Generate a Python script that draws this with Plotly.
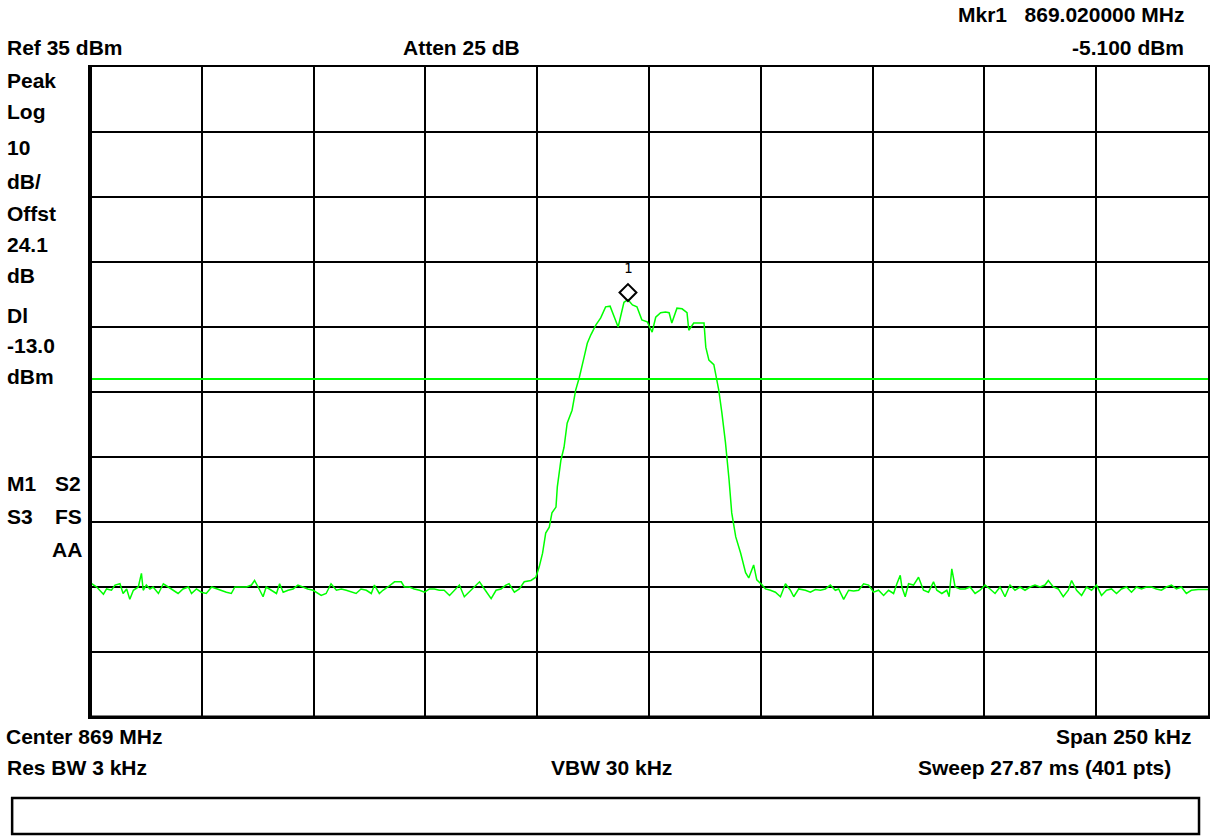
import plotly.graph_objects as go

# ---- data (frequency offset from centre in kHz, level in dBm) ----
center_mhz = 869.0
span_khz = 250.0
ref_level_dbm = 35.0
db_per_div = 10.0
display_line_dbm = -13.0

offset_khz = [
    -125.0, -124.6, -123.5, -122.8, -122.0, -121.3, -120.2, -119.4, -118.3, -117.6, -116.8,
    -116.1, -115.3, -114.2, -113.5, -113.1, -112.4, -111.6, -110.9, -109.7, -108.6, -107.5,
    -106.4, -105.3, -104.2, -103.0, -102.3, -101.2, -100.1, -99.0, -97.8, -96.7, -95.6,
    -94.5, -93.4, -92.6, -91.5, -90.0, -88.9, -88.2, -87.4, -86.3, -85.6, -84.4, -83.3,
    -82.6, -81.8, -80.7, -79.6, -78.5, -77.4, -76.3, -75.1, -74.4, -73.3, -72.2, -71.1,
    -69.9, -68.8, -67.7, -66.6, -65.5, -64.4, -63.2, -62.1, -61.4, -60.3, -59.5, -58.4,
    -56.9, -55.4, -54.7, -53.6, -52.5, -51.3, -50.2, -49.1, -48.0, -46.9, -45.8, -44.6,
    -43.5, -42.4, -41.3, -40.2, -39.1, -37.9, -36.8, -35.3, -34.2, -33.1, -32.0, -31.3,
    -30.1, -29.0, -27.9, -26.4, -25.3,
    # signal
    -24.55, -23.8, -23.1, -22.3, -21.7, -20.8, -20.5, -19.7, -19.0, -18.3, -17.2, -16.4,
    -15.6, -14.5, -13.8, -13.0, -11.9, -10.8, -9.7, -8.7, -7.8, -6.9, -5.6, -4.7, -3.7,
    -2.7, -1.6, -0.4, 0.7, 1.5, 2.6, 3.7, 4.5, 5.1, 6.25, 7.4, 8.5, 8.9, 10.0, 11.5, 12.3,
    12.7, 13.4, 14.5, 15.6, 16.3, 17.1, 17.9, 18.5, 19.4, 20.5, 21.6, 22.3, 23.4, 24.1, 25.3,
    # right noise
    26.04, 27.16, 28.27, 29.39, 30.51, 31.62, 32.37, 33.48, 34.97, 36.09, 37.20, 38.32,
    39.43, 40.55, 41.67, 42.41, 43.53, 44.64, 45.76, 46.88, 47.99, 49.11, 50.22, 51.34,
    52.46, 53.57, 54.69, 55.43, 56.18, 56.55, 57.29, 58.04, 59.15, 60.27, 61.38, 62.50,
    63.62, 64.36, 65.48, 66.59, 67.11, 67.71, 68.45, 69.57, 70.68, 71.80, 72.92, 74.03,
    75.15, 76.26, 77.38, 78.50, 79.61, 80.73, 81.85, 82.96, 84.08, 85.19, 86.31, 87.43,
    88.54, 89.29, 90.40, 91.52, 92.63, 93.75, 94.50, 95.61, 96.73, 97.84, 98.96, 100.07,
    101.19, 102.31, 103.42, 104.54, 105.65, 106.77, 107.89, 109.00, 110.12, 111.23, 112.35,
    113.47, 114.58, 115.70, 116.82, 117.93, 119.05, 120.16, 121.28, 122.77, 124.63, 125.0,
]

level_dbm = [
    -44.4, -44.5, -45.0, -45.5, -46.1, -45.3, -45.5, -44.7, -44.5, -46.0, -45.3,
    -46.9, -45.5, -45.0, -42.9, -45.5, -44.7, -45.3, -45.0, -46.0, -44.5, -45.0,
    -45.5, -46.0, -45.3, -45.0, -46.0, -45.3, -45.8, -46.0, -45.0, -45.3, -45.5,
    -45.8, -46.0, -45.0, -45.0, -45.0, -44.7, -44.0, -45.0, -46.5, -45.0, -45.5, -46.0,
    -44.5, -45.8, -45.5, -45.3, -44.7, -45.0, -45.3, -45.5, -45.8, -46.3, -46.0, -44.5,
    -45.5, -45.3, -45.5, -45.8, -46.0, -45.3, -45.5, -46.0, -44.7, -46.0, -45.5, -45.0,
    -44.2, -44.2, -45.0, -45.0, -45.3, -45.5, -45.8, -45.3, -45.3, -45.5, -45.5, -46.3,
    -45.5, -44.7, -46.5, -45.8, -45.0, -44.2, -45.3, -46.8, -45.5, -45.3, -44.7, -44.5,
    -45.8, -45.3, -44.2, -44.0, -43.5,
    # signal
    -41.9, -39.8, -36.7, -35.8, -33.6, -32.7, -29.6, -25.5, -23.5, -19.8, -17.8, -14.7,
    -12.8, -9.6, -7.5, -6.2, -4.7, -3.6, -1.9, -1.8, -3.5, -5.0, -1.2, -0.8, -1.6,
    -1.9, -3.9, -4.2, -5.8, -3.5, -2.8, -2.7, -2.8, -4.4, -2.1, -2.2, -2.8, -5.5, -4.4, -4.4, -4.4,
    -8.1, -10.1, -10.8, -14.7, -18.2, -22.8, -28.5, -33.6, -37.3, -39.8, -42.8, -43.6, -41.6, -43.9, -44.7,
    # right noise
    -45.3, -45.5, -45.8, -46.5, -44.5, -45.5, -46.5, -45.3, -45.5, -45.8, -45.4, -45.5,
    -45.3, -44.7, -45.5, -45.3, -46.9, -45.5, -45.6, -45.5, -44.5, -44.7, -45.8, -45.5,
    -46.3, -45.5, -46.0, -44.5, -43.2, -45.0, -46.5, -44.5, -44.7, -43.5, -45.5, -45.8,
    -44.2, -45.5, -46.0, -45.5, -46.5, -42.2, -45.0, -45.3, -45.3, -45.0, -46.0, -45.5,
    -44.7, -45.3, -46.0, -45.0, -46.5, -44.7, -45.5, -45.0, -45.5, -45.0, -44.7, -45.0,
    -44.7, -44.0, -45.0, -45.3, -46.5, -45.5, -44.0, -45.5, -46.3, -45.0, -45.5, -44.7,
    -46.3, -45.5, -45.3, -46.0, -45.3, -45.0, -45.8, -45.0, -45.3, -45.0, -45.0,
    -45.3, -45.5, -45.0, -44.7, -45.3, -45.0, -46.0, -45.5, -45.4, -45.4, -45.4,
]

header_left = ["Peak", "Log", "10", "dB/", "Offst", "24.1", "dB", "Dl", "-13.0", "dBm"]
header_left_y = [80, 112, 148, 181, 213, 244, 275, 315, 345, 376]

# ---- layout geometry (pixels) ----
W, H = 1211, 838
L, R, T, B = 90, 1210, 67, 717
PW, PH = R - L, B - T
GREEN = "#00ff00"
FONT = "Liberation Sans, Arial, sans-serif"
FS = 21


def px(x):
    return (x - L) / PW


def py(y):
    return (B - y) / PH


freq_mhz = [center_mhz + o / 1000.0 for o in offset_khz]
f_start = center_mhz - span_khz / 2000.0
f_stop = center_mhz + span_khz / 2000.0
y_top = ref_level_dbm
y_bot = ref_level_dbm - 10 * db_per_div

fig = go.Figure()
fig.add_trace(go.Scatter(x=freq_mhz, y=level_dbm, mode="lines",
                         line=dict(color=GREEN, width=1.5), hoverinfo="skip"))

# marker 1 at trace maximum
i_pk = max(range(len(level_dbm)), key=lambda i: level_dbm[i])
fig.add_trace(go.Scatter(x=[freq_mhz[i_pk]], y=[level_dbm[i_pk] + 1.1], mode="markers",
                         marker=dict(symbol="diamond-open", size=13, color="black",
                                     line=dict(width=2, color="black")),
                         hoverinfo="skip"))

ann = []


def txt(t, x, y, anchor="left", size=FS, bold=True, family=FONT):
    ann.append(dict(text=("<b>%s</b>" % t) if bold else t, x=px(x), y=py(y),
                    xref="paper", yref="paper", xanchor=anchor, yanchor="middle",
                    showarrow=False, font=dict(family=family, size=size, color="black")))


txt("Ref 35 dBm", 5, 47)
txt("Atten 25 dB", 462, 47, anchor="center")
txt("Mkr1   869.020000 MHz", 1188, 15, anchor="right")
txt("-5.100 dBm", 1188, 47, anchor="right")
for t, y in zip(header_left, header_left_y):
    txt(t, 5, y)
txt("M1", 5, 483)
txt("S2", 53, 483)
txt("S3", 5, 516)
txt("FS", 53, 516)
txt("AA", 84, 549, anchor="right")
txt("Center 869 MHz", 4, 737)
txt("Span 250 kHz", 1195, 737, anchor="right")
txt("Res BW 3 kHz", 5, 767)
txt("VBW 30 kHz", 612, 767, anchor="center")
txt("Sweep 27.87 ms (401 pts)", 1175, 767, anchor="right")

ann.append(dict(text="1", x=freq_mhz[i_pk], y=level_dbm[i_pk], xref="x", yref="y",
                yshift=32, showarrow=False,
                font=dict(family="DejaVu Sans Mono, monospace", size=14, color="black")))

shapes = [
    dict(type="line", xref="paper", yref="y", x0=0, x1=1, y0=display_line_dbm,
         y1=display_line_dbm, line=dict(color=GREEN, width=2)),
    dict(type="line", xref="paper", yref="paper", x0=0, x1=0, y0=0, y1=1,
         line=dict(color="black", width=4)),
    dict(type="line", xref="paper", yref="paper", x0=0, x1=1, y0=0, y1=0,
         line=dict(color="black", width=3)),
    dict(type="rect", xref="paper", yref="paper", x0=px(12), x1=px(1201),
         y0=py(834), y1=py(798), line=dict(color="black", width=2.5)),
]

axis_common = dict(showgrid=True, gridcolor="black", gridwidth=2, showline=True,
                   linecolor="black", linewidth=2, mirror=True, showticklabels=False,
                   ticks="", zeroline=False, fixedrange=True)

fig.update_layout(
    width=W, height=H,
    margin=dict(l=L, r=W - R, t=T, b=H - B, pad=0),
    paper_bgcolor="white", plot_bgcolor="white",
    showlegend=False,
    xaxis=dict(range=[f_start, f_stop], tick0=f_start, dtick=span_khz / 10000.0, **axis_common),
    yaxis=dict(range=[y_bot, y_top], tick0=y_bot, dtick=db_per_div, **axis_common),
    annotations=ann, shapes=shapes,
)

fig.write_html("out.html", config={"displayModeBar": False},
               post_script="document.body.style.margin='0';")
